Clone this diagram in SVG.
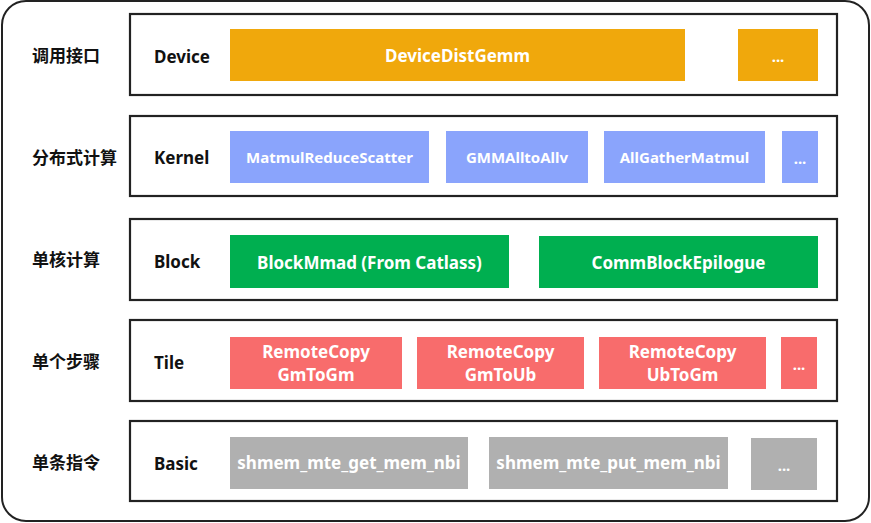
<svg xmlns="http://www.w3.org/2000/svg" width="871" height="523" viewBox="0 0 871 523">
<style>
.frame{fill:#fff;stroke:#222;stroke-width:2}
.layer{fill:#fff;stroke:#222;stroke-width:2.2}
.lbl{font-family:"Noto Sans","Noto Sans CJK SC",sans-serif;font-weight:bold;font-size:17px;fill:#111;dominant-baseline:central}
.t{font-family:"Noto Sans","Noto Sans CJK SC",sans-serif;font-weight:bold;font-size:17px;fill:#fff;text-anchor:middle;dominant-baseline:central}
.s{font-size:15px}
.or{fill:#F0A80C}.bl{fill:#8AA4FC}.gr{fill:#00AF50}.rd{fill:#F86C6C}.gy{fill:#B0B0B0}
</style>
<rect class="frame" x="2" y="1" width="867" height="520" rx="24"/>
<g id="row-device">
<rect class="layer" x="130" y="14" width="707" height="81"/>
<text class="lbl" x="32" y="55">调用接口</text>
<text class="lbl" x="154" y="56">Device</text>
</g>
<g id="DeviceDistGemm"><rect class="or" x="230" y="29" width="455" height="52"/><text class="t" x="457.5" y="55">DeviceDistGemm</text></g>
<g id="device-more"><rect class="or" x="738" y="29" width="80" height="52"/><text class="t s" x="778" y="56">...</text></g>

<g id="row-kernel">
<rect class="layer" x="130" y="116" width="707" height="80"/>
<text class="lbl" x="32" y="157">分布式计算</text>
<text class="lbl" x="154" y="157">Kernel</text>
</g>
<g id="MatmulReduceScatter"><rect class="bl" x="230" y="131" width="199" height="52"/><text class="t s" x="329.5" y="157">MatmulReduceScatter</text></g>
<g id="GMMAlltoAllv"><rect class="bl" x="446" y="131" width="142" height="52"/><text class="t s" x="517" y="157">GMMAlltoAllv</text></g>
<g id="AllGatherMatmul"><rect class="bl" x="604" y="131" width="161" height="52"/><text class="t s" x="684.5" y="157">AllGatherMatmul</text></g>
<g id="kernel-more"><rect class="bl" x="782" y="131" width="36" height="52"/><text class="t s" x="800" y="158">...</text></g>

<g id="row-block">
<rect class="layer" x="130" y="219" width="707" height="81"/>
<text class="lbl" x="32" y="259">单核计算</text>
<text class="lbl" x="154" y="261">Block</text>
</g>
<g id="BlockMmad"><rect class="gr" x="230" y="235" width="279" height="53"/><text class="t" x="369.5" y="262">BlockMmad (From Catlass)</text></g>
<g id="CommBlockEpilogue"><rect class="gr" x="539" y="236" width="279" height="52"/><text class="t" x="678.5" y="262">CommBlockEpilogue</text></g>

<g id="row-tile">
<rect class="layer" x="130" y="320" width="707" height="81"/>
<text class="lbl" x="32" y="361">单个步骤</text>
<text class="lbl" x="154" y="362">Tile</text>
</g>
<g id="RemoteCopyGmToGm"><rect class="rd" x="230" y="337" width="172" height="52"/><text class="t" x="316" y="351.5">RemoteCopy</text><text class="t" x="316" y="374.5">GmToGm</text></g>
<g id="RemoteCopyGmToUb"><rect class="rd" x="417" y="337" width="167" height="52"/><text class="t" x="500.5" y="351.5">RemoteCopy</text><text class="t" x="500.5" y="374.5">GmToUb</text></g>
<g id="RemoteCopyUbToGm"><rect class="rd" x="599" y="337" width="167" height="52"/><text class="t" x="682.5" y="351.5">RemoteCopy</text><text class="t" x="682.5" y="374.5">UbToGm</text></g>
<g id="tile-more"><rect class="rd" x="781" y="337" width="36" height="52"/><text class="t s" x="799" y="364">...</text></g>

<g id="row-basic">
<rect class="layer" x="130" y="421" width="707" height="80"/>
<text class="lbl" x="32" y="462">单条指令</text>
<text class="lbl" x="154" y="463">Basic</text>
</g>
<g id="shmem_mte_get_mem_nbi"><rect class="gy" x="230" y="437" width="238" height="52"/><text class="t" x="349" y="462">shmem_mte_get_mem_nbi</text></g>
<g id="shmem_mte_put_mem_nbi"><rect class="gy" x="489" y="437" width="239" height="52"/><text class="t" x="608.5" y="462">shmem_mte_put_mem_nbi</text></g>
<g id="basic-more"><rect class="gy" x="751" y="438" width="66" height="52"/><text class="t s" x="784" y="465">...</text></g>
<g id="connectors"/>
</svg>
